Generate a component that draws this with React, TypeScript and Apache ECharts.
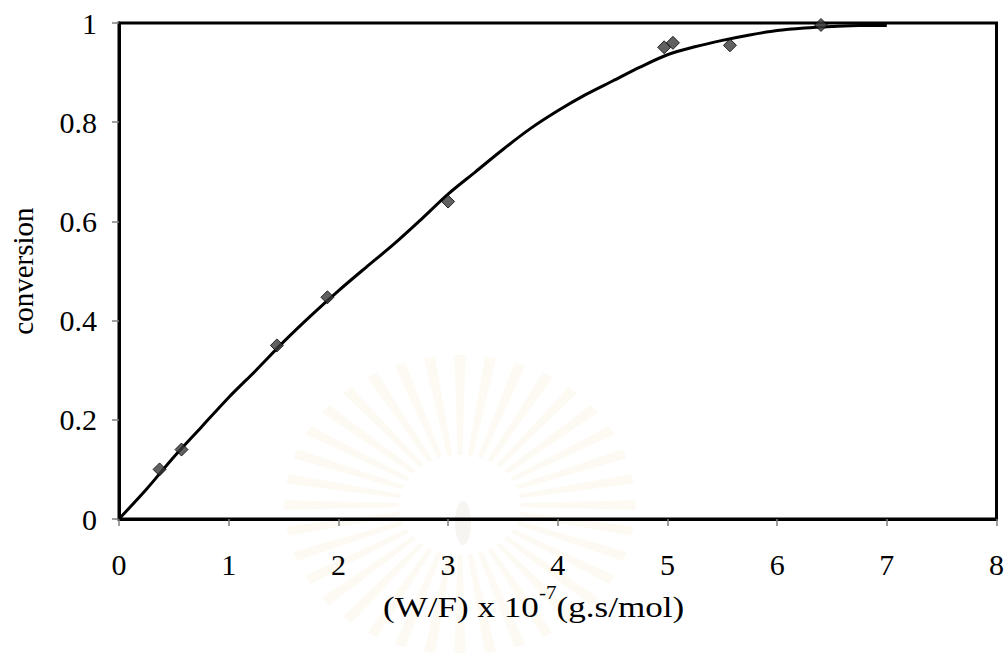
import React, { useEffect, useRef } from "react";
import * as echarts from "echarts";

const xTicks = [0, 1, 2, 3, 4, 5, 6, 7, 8];
const yTicks = [0, 0.2, 0.4, 0.6, 0.8, 1];

const expX = [0.37, 0.57, 1.44, 1.9, 3.0, 4.97, 5.05, 5.57, 6.4];
const expY = [0.10, 0.14, 0.35, 0.447, 0.64, 0.951, 0.96, 0.955, 0.996];

const fitX = [0, 0.25, 0.5, 0.75, 1, 1.25, 1.5, 1.75, 2, 2.25, 2.5, 2.75, 3, 3.25, 3.5, 3.75, 4, 4.25, 4.5, 4.75, 5, 5.25, 5.5, 5.75, 6, 6.25, 6.5, 6.75, 7];
const fitY = [0, 0.06, 0.125, 0.185, 0.245, 0.3, 0.357, 0.41, 0.46, 0.507, 0.553, 0.603, 0.655, 0.7, 0.745, 0.787, 0.823, 0.855, 0.883, 0.911, 0.936, 0.952, 0.965, 0.976, 0.985, 0.99, 0.993, 0.995, 0.995];

const yTitle = "conversion";
const FONT = "'Liberation Serif', 'Times New Roman', serif";

function watermark() {
  const cx = 460;
  const cy = 505;
  const sx = 1.17;
  const items: any[] = [];
  const n = 36;
  for (let i = 0; i < n; i++) {
    const a = (i / n) * Math.PI * 2;
    const w = 0.07;
    const r0 = 50;
    const r1 = 150;
    const pt = (ang: number, r: number) => [cx + Math.cos(ang) * r * sx, cy + Math.sin(ang) * r];
    const p = [pt(a - w * 0.6, r0), pt(a - w * 0.45, r1), pt(a + w * 0.45, r1), pt(a + w * 0.6, r0)];
    items.push({
      type: "polygon",
      z: -10,
      silent: true,
      shape: { points: p },
      style: { fill: "#f6f0d8", opacity: 0.32 },
    });
  }
  items.push({
    type: "ellipse",
    z: -9,
    silent: true,
    shape: { cx, cy, rx: 52 * sx, ry: 50 },
    style: { fill: "#ffffff" },
  });
  items.push({
    type: "ellipse",
    z: -8,
    silent: true,
    shape: { cx: cx + 3, cy: cy + 18, rx: 8, ry: 22 },
    style: { fill: "#efece4", opacity: 0.5 },
  });
  return items;
}

export default function App() {
  const ref = useRef<HTMLDivElement>(null);
  useEffect(() => {
    document.body.style.margin = "0";
    const chart = echarts.init(ref.current!, undefined, { renderer: "svg" });
    const fitData = fitX.map((x, i) => [x, fitY[i]]);
    const expData = expX.map((x, i) => [x, expY[i]]);
    chart.setOption({
      animation: false,
      backgroundColor: "#ffffff",
      grid: {
        left: 118,
        right: 9,
        top: 23,
        bottom: 134,
        show: true,
        borderColor: "#000",
        borderWidth: 3,
      },
      xAxis: {
        type: "value",
        min: xTicks[0],
        max: xTicks[xTicks.length - 1],
        interval: 1,
        axisLine: { lineStyle: { color: "#000", width: 3 } },
        axisTick: { show: true, length: 7, lineStyle: { color: "#808080", width: 1.5 } },
        splitLine: { show: false },
        axisLabel: { margin: 30, color: "#000", fontSize: 30, fontFamily: FONT },
      },
      yAxis: {
        type: "value",
        min: yTicks[0],
        max: yTicks[yTicks.length - 1],
        interval: 0.2,
        name: yTitle,
        nameLocation: "middle",
        nameRotate: 90,
        nameGap: 82,
        nameTextStyle: { color: "#000", fontSize: 29, fontFamily: FONT },
        axisLine: { lineStyle: { color: "#000", width: 3 } },
        axisTick: { show: true, length: 7, lineStyle: { color: "#808080", width: 1.5 } },
        splitLine: { show: false },
        axisLabel: { margin: 22, color: "#000", fontSize: 30, fontFamily: FONT },
      },
      graphic: [
        ...watermark(),
        {
          type: "text",
          x: 383,
          y: 584,
          scaleX: 1.17,
          z: 10,
          style: {
            text: "{a|(W/F) x 10}{s|-7}{a|(g.s/mol)}",
            verticalAlign: "top",
            align: "left",
            rich: {
              a: { fontSize: 30, fontFamily: FONT, fill: "#000", verticalAlign: "bottom", lineHeight: 38 },
              s: { fontSize: 18, fontFamily: FONT, fill: "#000", verticalAlign: "top", lineHeight: 38 },
            },
          },
        },
      ],
      series: [
        {
          type: "line",
          data: fitData,
          smooth: 0.3,
          showSymbol: false,
          lineStyle: { color: "#000", width: 3 },
          z: 3,
        },
        {
          type: "scatter",
          data: expData,
          symbol: "diamond",
          symbolSize: 13,
          itemStyle: { color: "#3a3a3a", borderColor: "#000", borderWidth: 1 },
          z: 4,
        },
      ],
    });
    return () => chart.dispose();
  }, []);
  return <div ref={ref} style={{ width: 1007, height: 653 }} />;
}
